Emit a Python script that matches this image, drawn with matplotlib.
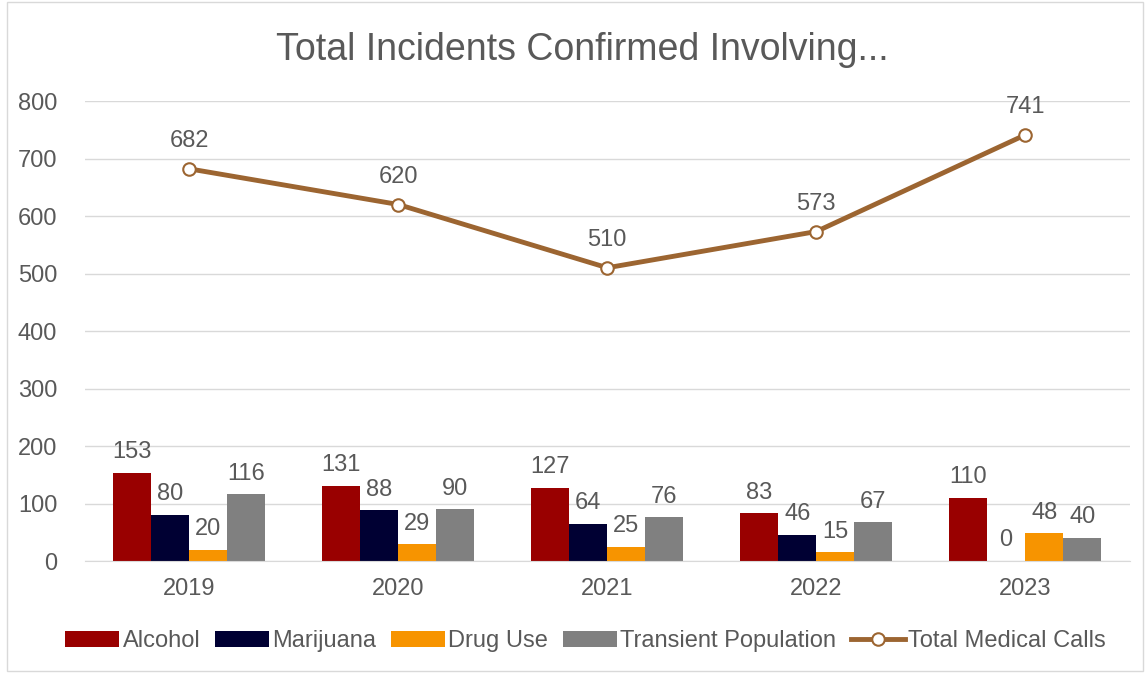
import matplotlib.pyplot as plt
import numpy as np

plt.rcParams['font.family'] = ['Liberation Sans', 'DejaVu Sans']

years = ['2019', '2020', '2021', '2022', '2023']
alcohol = [153, 131, 127, 83, 110]
marijuana = [80, 88, 64, 46, 0]
drug_use = [20, 29, 25, 15, 48]
transient = [116, 90, 76, 67, 40]
medical_calls = [682, 620, 510, 573, 741]

series = [
    ('Alcohol', alcohol, '#990000'),
    ('Marijuana', marijuana, '#000033'),
    ('Drug Use', drug_use, '#F79400'),
    ('Transient Population', transient, '#808080'),
]
txt = '#595959'

fig = plt.figure(figsize=(11.48, 6.73), dpi=100)
ax = fig.add_axes([0.074, 0.1664, 0.91, 0.6835])

x = np.arange(len(years))
w = 0.182
handles = []
for i, (name, vals, col) in enumerate(series):
    pos = x + (i - 1.5) * w
    handles.append(ax.bar(pos, vals, w, color=col, label=name, zorder=2))
    for px, v in zip(pos, vals):
        ax.annotate(str(v), (px, v), xytext=(0, 7), textcoords='offset points',
                    ha='center', va='bottom', fontsize=17, color=txt)

line, = ax.plot(x, medical_calls, color='#9C6531', lw=3.5, marker='o', ms=9,
                mfc='white', mec='#9C6531', mew=1.5, label='Total Medical Calls', zorder=3)
handles.append(line)
for px, v in zip(x, medical_calls):
    ax.annotate(str(v), (px, v), xytext=(0, 12), textcoords='offset points',
                ha='center', va='bottom', fontsize=17, color=txt)

ax.set_xlim(-0.5, 4.5)
ax.set_ylim(0, 800)
ax.set_yticks(range(0, 801, 100))
ax.set_xticks(x)
ax.set_xticklabels(years)
ax.grid(axis='y', color='#D9D9D9', lw=1, zorder=0)
ax.set_axisbelow(True)
for s in ['top', 'right', 'left']:
    ax.spines[s].set_visible(False)
ax.spines['bottom'].set_color('#D9D9D9')
ax.tick_params(length=0, labelsize=17, labelcolor=txt)
ax.tick_params(axis='x', pad=12)
ax.tick_params(axis='y', pad=20)

fig.text(0.507, 0.925, 'Total Incidents Confirmed Involving...', ha='center', va='center',
         fontsize=27, color=txt)

fig.legend(handles=handles, loc='center', bbox_to_anchor=(0.51, 0.047), ncol=5, frameon=False,
           fontsize=17, labelcolor=txt, handlelength=2.3, handletextpad=0.15,
           columnspacing=0.6, handleheight=0.7)

fig.patches.append(plt.Rectangle((0.006, 0.003), 0.99, 0.994, transform=fig.transFigure,
                                 fill=False, edgecolor='#D9D9D9', lw=1))

fig.savefig('out.png', dpi=100)
